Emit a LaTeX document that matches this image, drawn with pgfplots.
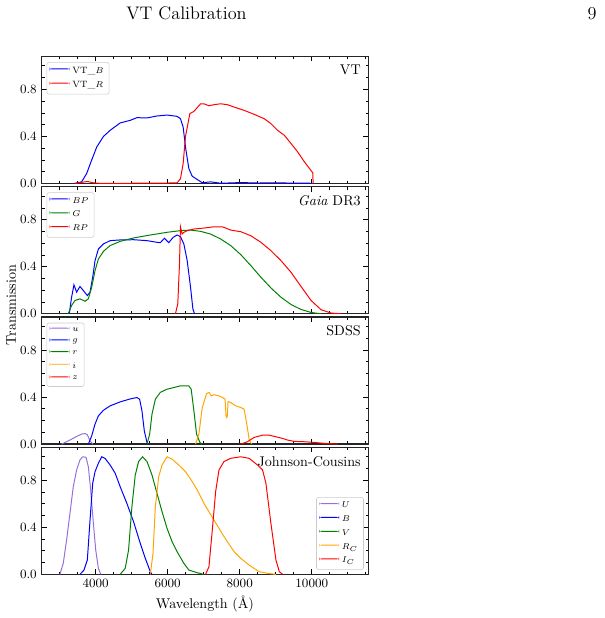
\documentclass[border=0pt]{standalone}
\usepackage{pgfplots}
\pgfplotsset{compat=1.18}
\definecolor{cblue}{RGB}{0,0,255}
\definecolor{cred}{RGB}{255,0,0}
\definecolor{cgreen}{RGB}{0,128,0}
\definecolor{corange}{RGB}{255,165,0}
\definecolor{cpurple}{RGB}{147,112,219}
\tikzset{plabel/.style={anchor=north east, inner sep=0pt, font=\fontsize{10}{12}\selectfont}}
\pgfplotsset{
 panel/.style={
  width=231.56pt, height=90.04pt, scale only axis,
  xmin=2500, xmax=11570, ymin=0, ymax=1.08,
  xtick={4000,6000,8000,10000},
  minor xtick={3000,3500,4500,5000,5500,6500,7000,7500,8500,9000,9500,10500,11000,11500},
  ytick={0,0.4,0.8},
  minor ytick={0.1,0.2,0.3,0.5,0.6,0.7,0.9,1.0},
  tick align=inside, tick pos=both,
  major tick length=3.5pt, minor tick length=2pt,
  every tick/.style={black, line width=0.6pt},
  axis line style={line width=0.9pt, black!85},
  yticklabel style={/pgf/number format/.cd, fixed, fixed zerofill, precision=1},
  xticklabel style={/pgf/number format/.cd, 1000 sep={}},
  ticklabel style={font=\fontsize{9}{10}\selectfont},
  scaled x ticks=false, scaled y ticks=false,
  legend style={font=\fontsize{6.5}{8}\selectfont, draw=black!20, rounded corners=1.5pt,
     fill=white, inner xsep=2pt, inner ysep=1.2pt, row sep=0.2pt},
  legend cell align=left,
  legend image code/.code={\path[##1, draw=none, line width=0pt] (0pt,-0.35pt) rectangle (14pt,0.35pt); \fill[##1, draw=none] (0pt,1.2pt) rectangle (14pt,1.9pt);},
  every axis plot/.append style={line width=0.7pt},
 },
 ul/.style={legend style={at={(0,1)}, anchor=north west, xshift=3.5pt, yshift=-4pt}},
}
\begin{document}
\begin{tikzpicture}
\path (0,0) rectangle (428.24pt,438.16pt);
\node[anchor=base, font=\fontsize{12.9}{15}\selectfont] at (132.2pt,424.3pt) {VT Calibration};
\node[anchor=base, font=\fontsize{12.9}{15}\selectfont] at (419.7pt,424.3pt) {9};
\node[anchor=base, rotate=90, font=\fontsize{10}{12}\selectfont] at (11.3pt,221.9pt) {Transmission};
\node[anchor=base, font=\fontsize{10}{12}\selectfont] at (145.3pt,7.0pt) {Wavelength (\AA)};

% Panel 1: VT
\begin{axis}[panel, ul, at={(29.57pt,398.10pt)}, anchor=north west, xticklabels=\empty]
\addplot[cblue] coordinates {(3400,0) (3609,0.014) (3749,0.085) (3888,0.2) (4028,0.31) (4214,0.40) (4400,0.452) (4679,0.515) (4958,0.537) (5144,0.56) (5423,0.557) (5702,0.574) (5981,0.582) (6260,0.571) (6353,0.551) (6428,0.48) (6493,0.31) (6586,0.127) (6679,0.062) (6819,0.034) (6958,0.006) (7191,0.014) (7470,0.002) (8028,0.008) (8500,0.004) (9000,0.006) (9500,0.003) (10000,0.002)};
\addlegendentry{VT\_$B$}
\addplot[cred] coordinates {(3423,0) (3609,0.01) (3767,0.017) (3935,0.006) (4121,0.001) (4800,0.001) (5300,0.004) (5600,0.003) (6000,0.004) (6260,0.006) (6353,0.04) (6428,0.17) (6493,0.40) (6614,0.594) (6726,0.613) (6912,0.678) (7005,0.678) (7144,0.661) (7284,0.67) (7470,0.678) (7656,0.67) (7842,0.65) (8121,0.622) (8400,0.588) (8679,0.551) (8865,0.509) (9051,0.452) (9237,0.41) (9423,0.34) (9609,0.268) (9795,0.184) (10028,0.09) (10037,0)};
\addlegendentry{VT\_$R$}
\node[plabel] at (rel axis cs:1,1) [xshift=-5.2pt, yshift=-6pt] {VT};
\end{axis}

% Panel 2: Gaia
\begin{axis}[panel, ul, at={(29.57pt,305.72pt)}, anchor=north west, xticklabels=\empty]
\addplot[cblue] coordinates {(3265,0) (3330,0.141) (3395,0.246) (3470,0.184) (3563,0.232) (3656,0.198) (3767,0.155) (3842,0.184) (3916,0.311) (3981,0.452) (4074,0.551) (4214,0.594) (4400,0.622) (4679,0.628) (5051,0.63) (5423,0.622) (5702,0.608) (5795,0.605) (5907,0.642) (6028,0.605) (6149,0.65) (6260,0.67) (6353,0.656) (6447,0.594) (6540,0.452) (6633,0.226) (6698,0.042) (6744,0)};
\addlegendentry{$BP$}
\addplot[cgreen] coordinates {(3237,0) (3330,0.07) (3423,0.113) (3563,0.127) (3702,0.107) (3795,0.127) (3888,0.226) (3981,0.367) (4074,0.466) (4214,0.531) (4400,0.58) (4679,0.616) (5051,0.645) (5516,0.67) (5981,0.693) (6353,0.707) (6633,0.712) (6912,0.701) (7191,0.678) (7470,0.636) (7749,0.58) (8028,0.503) (8307,0.41) (8586,0.311) (8865,0.22) (9144,0.141) (9423,0.079) (9702,0.037) (9981,0.011) (10260,0)};
\addlegendentry{$G$}
\addplot[cred] coordinates {(6214,0) (6279,0.085) (6326,0.424) (6353,0.74) (6400,0.678) (6447,0.693) (6540,0.707) (6726,0.721) (7005,0.729) (7284,0.74) (7516,0.74) (7749,0.712) (8028,0.698) (8307,0.664) (8586,0.608) (8865,0.537) (9144,0.452) (9423,0.353) (9702,0.232) (9981,0.113) (10260,0.034) (10540,0.006) (10819,0)};
\addlegendentry{$RP$}
\node[plabel] at (rel axis cs:1,1) [xshift=-5.2pt, yshift=-6pt] {\textit{Gaia} DR3};
\end{axis}

% Panel 3: SDSS
\begin{axis}[panel, ul, at={(29.57pt,213.34pt)}, anchor=north west, xticklabels=\empty]
\addplot[cpurple] coordinates {(3051,0) (3191,0.02) (3330,0.042) (3470,0.065) (3609,0.085) (3702,0.09) (3767,0.079) (3842,0.028) (3916,0)};
\addlegendentry{$u$}
\addplot[cblue] coordinates {(3795,0) (3888,0.07) (3981,0.17) (4074,0.24) (4214,0.288) (4400,0.325) (4679,0.359) (4958,0.384) (5144,0.396) (5219,0.382) (5284,0.283) (5349,0.113) (5423,0.014) (5470,0)};
\addlegendentry{$g$}
\addplot[cgreen] coordinates {(5423,0) (5498,0.085) (5563,0.255) (5656,0.382) (5795,0.44) (5981,0.467) (6167,0.481) (6353,0.495) (6586,0.495) (6651,0.467) (6726,0.283) (6800,0.085) (6893,0.014) (6958,0)};
\addlegendentry{$r$}
\addplot[corange] coordinates {(6772,0) (6865,0.085) (6958,0.31) (7079,0.43) (7144,0.44) (7209,0.41) (7284,0.42) (7423,0.41) (7516,0.397) (7591,0.382) (7619,0.24) (7637,0.226) (7656,0.24) (7674,0.362) (7749,0.353) (7888,0.325) (8028,0.311) (8121,0.297) (8195,0.17) (8260,0.042) (8326,0)};
\addlegendentry{$i$}
\addplot[cred] coordinates {(8028,0) (8214,0.02) (8400,0.057) (8633,0.076) (8819,0.076) (9005,0.062) (9191,0.048) (9330,0.034) (9516,0.023) (9795,0.02) (10074,0.014) (10353,0.006) (10726,0)};
\addlegendentry{$z$}
\node[plabel] at (rel axis cs:1,1) [xshift=-5.2pt, yshift=-6pt] {SDSS};
\end{axis}

% Panel 4: Johnson-Cousins
\begin{axis}[panel, at={(29.57pt,120.96pt)}, anchor=north west,
  legend style={at={(1,0)}, anchor=south east, xshift=-3.2pt, yshift=3.2pt}]
\addplot[cpurple] coordinates {(3005,0) (3098,0.094) (3191,0.292) (3284,0.519) (3377,0.746) (3470,0.888) (3563,0.973) (3637,1.0) (3730,0.996) (3795,0.916) (3860,0.718) (3935,0.434) (4000,0.207) (4074,0.051) (4140,0)};
\addlegendentry{$U$}
\addplot[cblue] coordinates {(3563,0) (3674,0.037) (3767,0.122) (3842,0.462) (3916,0.775) (3981,0.874) (4074,0.945) (4167,1.0) (4260,0.986) (4400,0.93) (4540,0.86) (4679,0.746) (4865,0.604) (5051,0.448) (5237,0.264) (5377,0.136) (5516,0.023) (5563,0)};
\addlegendentry{$B$}
\addplot[cgreen] coordinates {(4679,0) (4819,0.051) (4912,0.207) (5005,0.576) (5098,0.845) (5191,0.96) (5302,1.0) (5423,0.96) (5563,0.845) (5702,0.689) (5842,0.533) (5981,0.391) (6121,0.278) (6260,0.193) (6447,0.094) (6586,0.037) (6819,0.014) (7005,0)};
\addlegendentry{$V$}
\addplot[corange] coordinates {(5516,0) (5591,0.179) (5656,0.576) (5749,0.831) (5842,0.93) (5981,1.0) (6121,0.98) (6307,0.93) (6493,0.874) (6679,0.789) (6819,0.718) (7005,0.604) (7284,0.462) (7563,0.321) (7842,0.193) (8028,0.136) (8260,0.079) (8540,0.023) (8772,0.009) (9005,0)};
\addlegendentry{$R_C$}
\addplot[cred] coordinates {(7051,0) (7144,0.065) (7237,0.377) (7330,0.704) (7423,0.888) (7563,0.96) (7749,0.987) (8028,1.0) (8260,0.987) (8493,0.93) (8633,0.888) (8726,0.775) (8865,0.434) (9005,0.122) (9098,0.023) (9191,0)};
\addlegendentry{$I_C$}
\node[plabel] at (rel axis cs:1,1) [xshift=-5.2pt, yshift=-6pt] {Johnson-Cousins};
\end{axis}
\end{tikzpicture}
\end{document}
